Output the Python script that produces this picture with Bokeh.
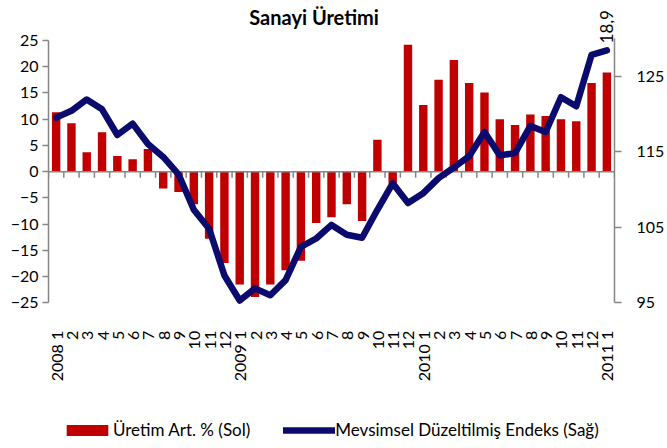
import math
from bokeh.plotting import figure
from bokeh.models import (Range1d, LinearAxis, FixedTicker, Label, Legend,
                          LegendItem, ColumnDataSource)
from bokeh.embed import file_html
from bokeh.resources import INLINE

# ---- data ----
tick_labels = ["2008 1", "2", "3", "4", "5", "6", "7", "8", "9", "10", "11", "12",
               "2009 1", "2", "3", "4", "5", "6", "7", "8", "9", "10", "11", "12",
               "2010 1", "2", "3", "4", "5", "6", "7", "8", "9", "10", "11", "12",
               "2011 1"]
uretim = [11.3, 9.2, 3.7, 7.5, 3.0, 2.35, 4.3, -3.2, -3.9, -6.2, -12.8, -17.4,
          -21.5, -23.9, -21.5, -18.8, -17.0, -9.8, -8.7, -6.2, -9.4, 6.1, -2.3, 24.2,
          12.7, 17.5, 21.3, 16.9, 15.1, 10.0, 8.9, 10.9, 10.6, 10.0, 9.6, 16.9,
          18.9]
endeks = [119.5, 120.4, 121.9, 120.6, 117.2, 118.7, 116.0, 114.3, 112.0, 107.3, 104.8, 98.6,
          95.3, 96.9, 96.0, 98.0, 102.4, 103.5, 105.3, 104.0, 103.6, 107.3, 110.8, 108.2,
          109.5, 111.5, 112.9, 114.4, 117.6, 114.5, 114.8, 118.4, 117.6, 122.2, 121.0, 127.8,
          128.4]
left_ticks = [-25, -20, -15, -10, -5, 0, 5, 10, 15, 20, 25]
right_ticks = [95, 105, 115, 125]
right_top = 130
title_text = "Sanayi Üretimi"
bar_name = "Üretim Art. % (Sol)"
line_name = "Mevsimsel Düzeltilmiş Endeks (Sağ)"

n = len(tick_labels)
xs = list(range(1, n + 1))
src = ColumnDataSource(dict(x=xs, u=uretim, e=endeks))

FONT = "Lato"
AXIS_GRAY = "#868686"
RED = "#C00000"
NAVY = "#0B0B6E"

# The frame covers the full height; axis lines are bounded to the tick span,
# the category axis is pinned at the bottom of the value range.
p = figure(width=667, height=448, output_backend="svg", toolbar_location=None,
           x_range=Range1d(0.5, n + 0.5), y_range=Range1d(-52.77, 32.62),
           min_border_left=48, min_border_right=52, min_border_top=0,
           min_border_bottom=0)
p.outline_line_color = None
p.xgrid.visible = False
p.ygrid.visible = False
p.background_fill_color = "white"
p.extra_y_ranges = {"right": Range1d(75.71, 135.0)}

bars = p.vbar(x="x", top="u", width=0.55, bottom=0, source=src,
              fill_color=RED, line_color=None)

# zero axis line and category ticks
bounds = [i + 0.5 for i in range(n + 1)]
p.segment(x0=[0.5], x1=[n + 0.5], y0=[0], y1=[0], line_color=AXIS_GRAY, line_width=1.5)
p.segment(x0=bounds, x1=bounds, y0=[0] * len(bounds), y1=[-1.15] * len(bounds),
          line_color=AXIS_GRAY, line_width=1.5)

line = p.line(x="x", y="e", source=src, y_range_name="right", line_color=NAVY,
              line_width=6.5, line_join="round", line_cap="round")

# category axis (labels only), pinned at the bottom of the left scale
xa = p.xaxis[0]
xa.fixed_location = left_ticks[0]
xa.ticker = FixedTicker(ticks=xs)
xa.major_label_overrides = {i + 1: lab for i, lab in enumerate(tick_labels)}
xa.major_label_orientation = math.pi / 2
xa.axis_line_color = None
xa.major_tick_line_color = None
xa.minor_tick_line_color = None
xa.major_label_standoff = 22
xa.major_label_text_font = FONT
xa.major_label_text_font_size = "16px"
xa.major_label_text_color = "black"

ya = p.yaxis[0]
ya.ticker = FixedTicker(ticks=left_ticks)
ya.bounds = (left_ticks[0], left_ticks[-1])
ya.axis_line_color = AXIS_GRAY
ya.axis_line_width = 1.5
ya.major_tick_line_color = AXIS_GRAY
ya.major_tick_line_width = 1.5
ya.major_tick_out = 6
ya.major_tick_in = 0
ya.minor_tick_line_color = None
ya.major_label_standoff = 4
ya.major_label_text_font = FONT
ya.major_label_text_font_size = "16px"
ya.major_label_text_color = "black"

ra = LinearAxis(y_range_name="right", ticker=FixedTicker(ticks=right_ticks))
ra.bounds = (right_ticks[0], right_top)
ra.axis_line_color = AXIS_GRAY
ra.axis_line_width = 1.5
ra.major_tick_line_color = AXIS_GRAY
ra.major_tick_line_width = 1.5
ra.major_tick_out = 7
ra.major_tick_in = 0
ra.minor_tick_line_color = None
ra.major_label_standoff = 15
ra.major_label_text_font = FONT
ra.major_label_text_font_size = "16px"
ra.major_label_text_color = "black"
p.add_layout(ra, "right")

# title
p.add_layout(Label(x=17.86, y=29.4, text=title_text, text_align="center",
                   text_baseline="alphabetic", text_font=FONT, text_font_style="bold",
                   text_font_size="20px", text_color="black"))

# last value label
p.add_layout(Label(x=n, y=24.43, text=f"{uretim[-1]:.1f}".replace(".", ","),
                   angle=math.pi / 2, text_align="left", text_baseline="middle",
                   text_font=FONT, text_font_size="17px", text_color="black"))

legend = Legend(items=[LegendItem(label=bar_name, renderers=[bars]),
                       LegendItem(label=line_name, renderers=[line])],
                location=(13, 8), orientation="horizontal", padding=0, margin=0,
                spacing=33, border_line_color=None, background_fill_alpha=0,
                glyph_width=52, glyph_height=14, label_standoff=0,
                label_text_font=FONT, label_text_font_size="17px",
                label_text_color="black", label_height=20)
p.add_layout(legend)

open("out.html", "w").write(file_html(p, INLINE))
